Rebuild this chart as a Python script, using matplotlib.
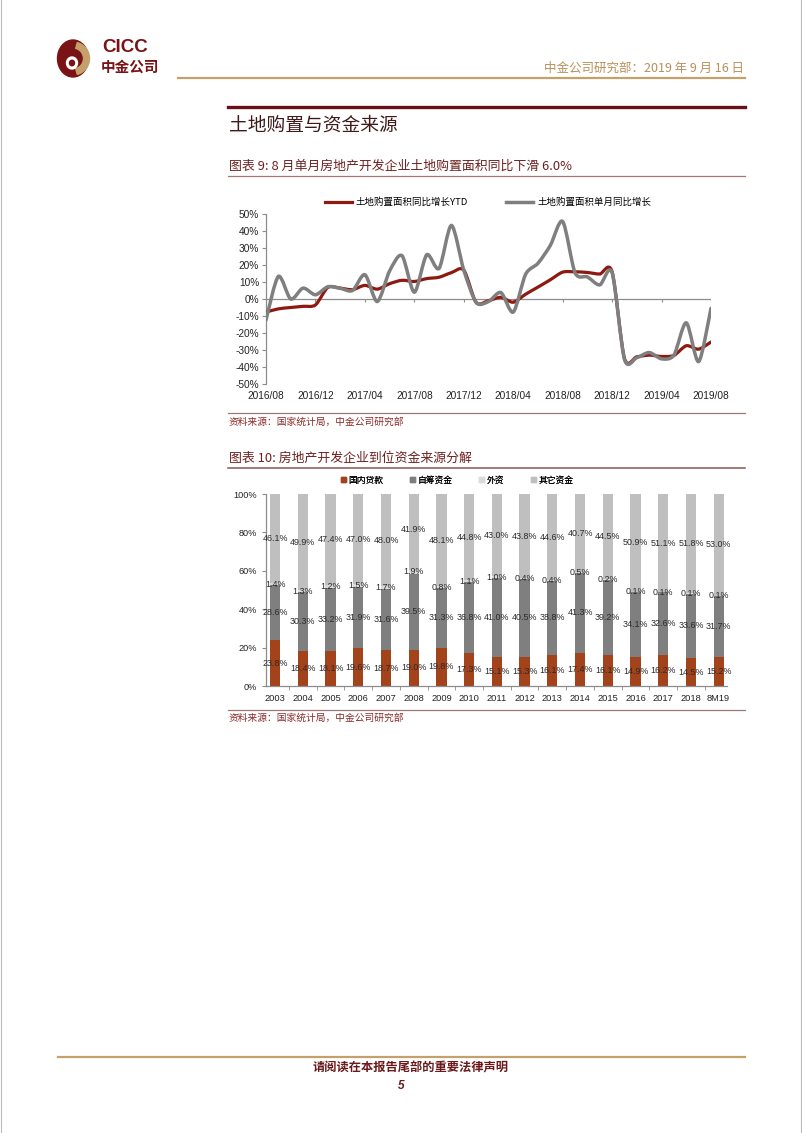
import matplotlib
matplotlib.use('Agg')
import matplotlib.pyplot as plt
from matplotlib.path import Path
from matplotlib.patches import PathPatch, Ellipse, Wedge, Rectangle
from matplotlib.lines import Line2D
import numpy as np

plt.rcParams['font.family'] = ['Liberation Sans', 'Noto Sans CJK SC', 'DejaVu Sans']
CJK = ['Noto Sans CJK SC', 'DejaVu Sans']

# ---------------- data: chart 9 ----------------
month_ticks = ["2016/08", "2016/12", "2017/04", "2017/08", "2017/12", "2018/04",
               "2018/08", "2018/12", "2019/04", "2019/08"]
ytd_growth = [-7.7, -5.8, -5.0, -4.3, -3.5, 6.8, 6.4, 5.5, 8.0, 5.8, 9.0, 11.0, 10.3,
              12.0, 12.8, 15.5, 17.0, -2.0, -1.0, 1.0, -1.9, 2.8, 7.0, 11.3, 15.8,
              16.0, 15.6, 14.7, 16.0, -35.0, -34.0, -33.0, -33.8, -33.2, -27.5,
              -29.5, -25.3]
month_growth = [-12.3, 13.3, 0.0, 6.4, 2.5, 7.2, 6.3, 5.0, 14.3, -1.5, 16.5, 25.5, 4.0,
                26.0, 18.0, 43.3, 17.0, -2.0, -1.5, 3.8, -7.7, 14.5, 21.0, 31.5, 45.6,
                15.5, 13.0, 8.3, 15.5, -35.5, -34.5, -31.5, -35.2, -33.0, -14.0,
                -36.8, -5.5]
line_names = ["土地购置面积同比增长YTD", "土地购置面积单月同比增长"]

# ---------------- data: chart 10 ----------------
years = ["2003", "2004", "2005", "2006", "2007", "2008", "2009", "2010", "2011",
         "2012", "2013", "2014", "2015", "2016", "2017", "2018", "8M19"]
domestic_loans = [23.8, 18.4, 18.1, 19.6, 18.7, 19.0, 19.8, 17.3, 15.1, 15.3, 16.1,
                  17.4, 16.1, 14.9, 16.2, 14.5, 15.2]
self_raised = [28.6, 30.3, 33.2, 31.9, 31.6, 39.5, 31.3, 36.8, 41.0, 40.5, 38.8,
               41.3, 39.2, 34.1, 32.6, 33.6, 31.7]
foreign = [1.4, 1.3, 1.2, 1.5, 1.7, 1.9, 0.8, 1.1, 1.0, 0.4, 0.4, 0.5, 0.2, 0.1,
           0.1, 0.1, 0.1]
other_funds = [46.1, 49.9, 47.4, 47.0, 48.0, 41.9, 48.1, 44.8, 43.0, 43.8, 44.6,
               40.7, 44.5, 50.9, 51.1, 51.8, 53.0]
fund_names = ["国内贷款", "自筹资金", "外资", "其它资金"]

# ---------------- styling ----------------
W, H = 802, 1133
RED = '#8C1A10'
GRAY = '#7F7F7F'
AXC = '#8C8C8C'
MAROON = '#6E2020'
GOLD = '#C4A06A'
bar_colors = ['#A3431C', '#7F7F7F', '#DADADA', '#BFBFBF']

fig = plt.figure(figsize=(W / 100, H / 100), dpi=100)
page = fig.add_axes([0, 0, 1, 1])
page.set_xlim(0, W)
page.set_ylim(H, 0)
page.axis('off')


def rect(x0, y0, x1, y1):
    return [x0 / W, 1 - y1 / H, (x1 - x0) / W, (y1 - y0) / H]


# page edges
page.plot([0.8, 0.8], [0, H], color='#BBBBBB', lw=0.8)
page.plot([W - 1.2, W - 1.2], [0, H], color='#BBBBBB', lw=0.8)

# logo
page.add_patch(Ellipse((73, 58.5), 31, 37, color='#7A1315'))
page.add_patch(Wedge((73, 58.5), 16.5, -75, 75, width=6, color=GOLD))
page.add_patch(Ellipse((72, 63), 11, 12, color='white'))
page.add_patch(Ellipse((72, 63), 5, 5.5, color='#7A1315'))
page.text(102, 48, "CICC", fontsize=13.5, fontweight='bold', color='#7A1315',
          va='center', ha='left', family=['Liberation Sans'])
page.text(101, 67, "中金公司", fontsize=10.5, fontweight='bold', color='#7A1315',
          va='center', ha='left', family=CJK)
page.text(744, 68, "中金公司研究部：2019 年 9 月 16 日", fontsize=9, color='#B8905A',
          va='center', ha='right', family=CJK)
page.plot([178, 745], [78, 78], color=GOLD, lw=1.6)

# section title
page.plot([228, 745], [107, 107], color='#6A1018', lw=2.4)
page.text(229, 125, "土地购置与资金来源", fontsize=13.5, color='#3E1A1A',
          va='center', ha='left', family=CJK)

# chart 9 title
page.text(229, 166.5, "图表 9: 8 月单月房地产开发企业土地购置面积同比下滑 6.0%",
          fontsize=9.3, color=MAROON, va='center', ha='left', family=CJK, style='italic')
page.plot([228, 745], [176, 176], color='#A07878', lw=0.9)

# ---------------- chart 9 ----------------
ax1 = fig.add_axes(rect(266, 214, 711, 384))
n = len(ytd_growth)
xs = np.arange(n)
ax1.set_xlim(0, n - 1)
ax1.set_ylim(-50, 50)


def smooth_path(x, y, t=0.14):
    verts = [(x[0], y[0])]
    codes = [Path.MOVETO]
    m = len(x)
    for i in range(m - 1):
        p0 = (x[i - 1], y[i - 1]) if i > 0 else (x[i], y[i])
        p1 = (x[i], y[i])
        p2 = (x[i + 1], y[i + 1])
        p3 = (x[i + 2], y[i + 2]) if i + 2 < m else p2
        c1 = (p1[0] + (p2[0] - p0[0]) * t, p1[1] + (p2[1] - p0[1]) * t)
        c2 = (p2[0] - (p3[0] - p1[0]) * t, p2[1] - (p3[1] - p1[1]) * t)
        verts += [c1, c2, p2]
        codes += [Path.CURVE4] * 3
    return Path(verts, codes)


ax1.axhline(0, color=AXC, lw=0.9, zorder=1)
tick_pos = list(range(0, n, 4))
ax1.vlines(tick_pos, -1.8, 0, color=AXC, lw=0.8, zorder=1)
ax1.add_patch(PathPatch(smooth_path(xs, ytd_growth), fill=False, edgecolor=RED,
                        lw=2.3, capstyle='round', joinstyle='round', zorder=3))
ax1.add_patch(PathPatch(smooth_path(xs, month_growth), fill=False, edgecolor=GRAY,
                        lw=2.5, capstyle='round', joinstyle='round', zorder=4))
for s in ['top', 'right', 'bottom']:
    ax1.spines[s].set_visible(False)
ax1.spines['left'].set_color(AXC)
ax1.spines['left'].set_linewidth(0.9)
ax1.set_yticks(range(-50, 51, 10))
ax1.set_yticklabels([f"{v}%" for v in range(-50, 51, 10)])
ax1.set_xticks(tick_pos)
ax1.set_xticklabels(month_ticks)
ax1.tick_params(axis='y', length=3, color=AXC, labelsize=7.3, pad=2, labelcolor='#222222')
ax1.tick_params(axis='x', length=0, labelsize=7.3, pad=5, labelcolor='#222222')
ax1.patch.set_alpha(0)

h1 = [Line2D([], [], color=RED, lw=2.3), Line2D([], [], color=GRAY, lw=2.5)]
leg1 = page.legend(h1, line_names, loc='center', bbox_to_anchor=(488, 202.5),
                   bbox_transform=page.transData, ncol=2, frameon=False,
                   prop={'family': CJK, 'size': 6.8}, handlelength=2.9,
                   handletextpad=0.4, columnspacing=4.0, borderaxespad=0, borderpad=0)
page.add_artist(leg1)

# source 1
page.plot([228, 745], [413, 413], color='#A07878', lw=0.9)
page.text(229, 421.5, "资料来源：国家统计局，中金公司研究部", fontsize=7, color='#8B2A2A',
          va='center', ha='left', family=CJK)

# chart 10 title
page.text(229, 458, "图表 10: 房地产开发企业到位资金来源分解", fontsize=9.3, color=MAROON,
          va='center', ha='left', family=CJK, style='italic')
page.plot([228, 745], [468, 468], color='#8A5555', lw=1.1)

# ---------------- chart 10 ----------------
ax2 = fig.add_axes(rect(265.7, 494, 727, 686))
xb = np.arange(len(years))
series = [domestic_loans, self_raised, foreign, other_funds]
bottom = np.zeros(len(years))
for vals, col in zip(series, bar_colors):
    vals = np.array(vals)
    ax2.bar(xb, vals, bottom=bottom, width=0.37, color=col, zorder=2)
    for i, v in enumerate(vals):
        ax2.text(xb[i], bottom[i] + v / 2, f"{v:.1f}%", ha='center', va='center',
                 fontsize=6.4, color='#2A2A2A', zorder=5)
    bottom = bottom + vals
ax2.set_xlim(-0.34, len(years) - 0.7)
ax2.set_ylim(0, 100)
ax2.set_yticks(range(0, 101, 20))
ax2.set_yticklabels([f"{v}%" for v in range(0, 101, 20)])
ax2.set_xticks(xb)
ax2.set_xticklabels(years)
ax2.set_xticks(np.arange(len(years) - 1) + 0.5, minor=True)
for s in ['top', 'right']:
    ax2.spines[s].set_visible(False)
for s in ['left', 'bottom']:
    ax2.spines[s].set_color(AXC)
    ax2.spines[s].set_linewidth(0.9)
ax2.tick_params(axis='y', length=3, color=AXC, labelsize=6.6, pad=3, labelcolor='#222222')
ax2.tick_params(axis='x', which='major', length=0, labelsize=6.7, pad=6, labelcolor='#222222')
ax2.tick_params(axis='x', which='minor', length=3, color=AXC)
ax2.patch.set_alpha(0)

h2 = [Rectangle((0, 0), 1, 1, color=c) for c in bar_colors]
leg2 = page.legend(h2, fund_names, loc='center', bbox_to_anchor=(457, 480),
                   bbox_transform=page.transData, ncol=4, frameon=False,
                   prop={'family': CJK, 'size': 6.3}, handlelength=0.6, handleheight=0.6,
                   handletextpad=0.3, columnspacing=3.0, borderaxespad=0, borderpad=0)
page.add_artist(leg2)

# source 2
page.plot([228, 745], [709.5, 709.5], color='#A07878', lw=0.9)
page.text(229, 718, "资料来源：国家统计局，中金公司研究部", fontsize=7, color='#8B2A2A',
          va='center', ha='left', family=CJK)

# footer
page.plot([58, 745], [1057, 1057], color=GOLD, lw=1.6)
page.text(411, 1068, "请阅读在本报告尾部的重要法律声明", fontsize=8.8, fontweight='bold',
          color='#6A1A1A', va='center', ha='center', family=CJK)
page.text(401, 1086, "5", fontsize=8.5, fontweight='bold', style='italic',
          color='#6A1A1A', va='center', ha='center', family=['Liberation Sans'])

fig.savefig('out.png', dpi=100)
